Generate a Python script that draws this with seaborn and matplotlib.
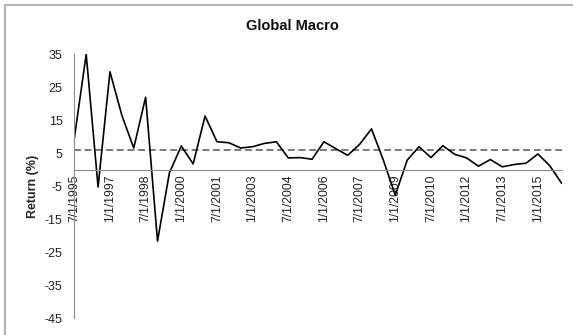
import matplotlib
matplotlib.use("Agg")
import matplotlib.pyplot as plt
from matplotlib.lines import Line2D
import numpy as np
import pandas as pd
import seaborn as sns

# Semiannual return observations, 7/1/1995 through 1/1/2016
dates = pd.date_range("1995-07-01", periods=42, freq="6MS")
returns = [
    9.5, 35.0, -5.2, 29.7, 16.5, 6.6, 22.0, -21.6, -0.9, 7.2,
    1.8, 16.3, 8.5, 8.2, 6.6, 7.0, 8.0, 8.5, 3.6, 3.7,
    3.2, 8.5, 6.4, 4.4, 7.7, 12.4, 2.9, -7.7, 2.9, 7.0,
    3.7, 7.3, 4.7, 3.6, 1.1, 3.1, 0.9, 1.6, 2.0, 4.8,
    1.2, -4.1,
]
y_ticks = [-45, -35, -25, -15, -5, 5, 15, 25, 35]
label_step = 3

df = pd.DataFrame({"pos": np.arange(len(returns)), "ret": returns})
date_labels = [f"{d.month}/{d.day}/{d.year}" for d in dates]
avg_return = float(np.mean(returns))

sns.set_style("white")
plt.rcParams["font.family"] = ["Liberation Sans", "DejaVu Sans"]

fig = plt.figure(figsize=(5.73, 3.35), dpi=100)
ax = fig.add_axes([74.3 / 573, 1 - 318.3 / 335, (561.7 - 74.3) / 573, (318.3 - 54.3) / 335])

sns.lineplot(data=df, x="pos", y="ret", ax=ax, color="black", linewidth=1.2)
ax.axhline(avg_return, color="#555555", linewidth=1.1, linestyle=(0, (4.5, 2.5)), zorder=1)

# spines first: moving a spine resets its axis ticks
axis_gray = "#8c8c8c"
for side in ["top", "right"]:
    ax.spines[side].set_visible(False)
ax.spines["bottom"].set_position(("data", 0))
ax.spines["bottom"].set_color(axis_gray)
ax.spines["bottom"].set_linewidth(0.8)
ax.spines["left"].set_color(axis_gray)
ax.spines["left"].set_linewidth(0.8)

ax.set_xlim(0, len(returns) - 1)
ax.set_ylim(-45, 35)
ax.set_yticks(y_ticks)
ax.set_yticklabels([str(t) for t in y_ticks], fontsize=9, color="#222222")

tick_pos = df["pos"].values[::label_step]
ax.set_xticks(tick_pos)
ax.set_xticklabels(date_labels[::label_step], rotation=90, fontsize=8.8,
                   color="#222222", ha="center", va="top")

ax.tick_params(axis="y", direction="out", length=3, width=0.8, color=axis_gray, pad=5.5)
ax.tick_params(axis="x", direction="out", length=3, width=0.8, color=axis_gray, pad=0.5)

ax.set_xlabel("")
ax.set_ylabel("Return (%)", fontsize=9, fontweight="bold", labelpad=4)
fig.text(292 / 573, 1 - 26 / 335, "Global Macro", fontsize=10.5, fontweight="bold",
         ha="center", va="center", color="#111111")

# chart-area frame (left and top edges)
frame = "#b3b3b3"
fig.add_artist(Line2D([4.5 / 573, 4.5 / 573], [0, 1 - 4.5 / 335], transform=fig.transFigure,
                      color=frame, linewidth=1.5))
fig.add_artist(Line2D([4.5 / 573, 1], [1 - 4.5 / 335, 1 - 4.5 / 335], transform=fig.transFigure,
                      color=frame, linewidth=1.5))

fig.savefig("out.png", dpi=100)
